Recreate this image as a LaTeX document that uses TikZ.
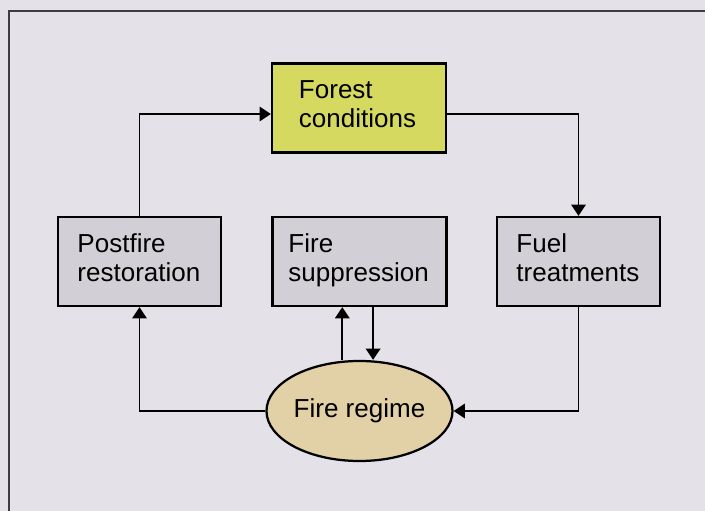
\documentclass[tikz,border=0pt]{standalone}
\usepackage{fontspec}
\setmainfont{Liberation Sans}
\usepackage{xcolor}
\usetikzlibrary{shapes.geometric, arrows.meta, positioning}

\definecolor{pagebg}{RGB}{228,226,232}
\definecolor{boxgrey}{RGB}{210,208,214}
\definecolor{forestfill}{RGB}{214,217,96}
\definecolor{regimefill}{RGB}{226,208,166}
\definecolor{framegrey}{RGB}{60,60,68}

\begin{document}
\begin{tikzpicture}[x=0.025cm, y=-0.025cm,
        box/.style={draw, line width=1.6pt, fill=boxgrey, inner sep=0pt,
            minimum height=2.225cm, align=left,
            font=\fontsize{18.5}{20.5}\selectfont},
        regimenode/.style={draw, ellipse, line width=1.6pt, fill=regimefill,
            inner sep=0pt, minimum width=4.35cm, minimum height=2.5cm,
            font=\fontsize{18.5}{20.5}\selectfont},
        arr/.style={-{Triangle[length=0.28cm, width=0.36cm]}, line width=1.4pt}]
        \useasboundingbox (0,0) rectangle (705,511);
        \fill[pagebg] (0,0) rectangle (705,511);
        \draw[framegrey, line width=1.2pt] (9,511) -- (9,11) -- (705,11);

        \node[box, fill=forestfill, minimum width=4.35cm, text width=3.0cm] (forest) at (359,108) {Forest\\conditions\strut};
        \node[box, minimum width=4.075cm, text width=3.1cm] (post) at (139.5,261.5) {Postfire\\restoration\strut};
        \node[box, minimum width=4.35cm, text width=3.55cm] (supp) at (359.5,261.5) {Fire\\suppression\strut};
        \node[box, minimum width=4.075cm, text width=3.1cm] (fuel) at (578.5,261.5) {Fuel\\treatments\strut};
        \node[regimenode] (regime) at (359.5,411) {Fire regime};

        \draw[arr] (post.north) |- ([yshift=-0.15cm]forest.west);
        \draw[arr] ([yshift=-0.15cm]forest.east) -| (fuel.north);
        \draw[arr] (fuel.south) |- (regime.east);
        \draw[arr] (regime.west) -| (post.south);
        \draw[arr] ([xshift=-0.43cm]regime.north) -- ([xshift=-0.43cm]supp.south);
        \draw[arr] ([xshift=0.34cm]supp.south) -- ([xshift=0.34cm]regime.north);
    \end{tikzpicture}
\end{document}
